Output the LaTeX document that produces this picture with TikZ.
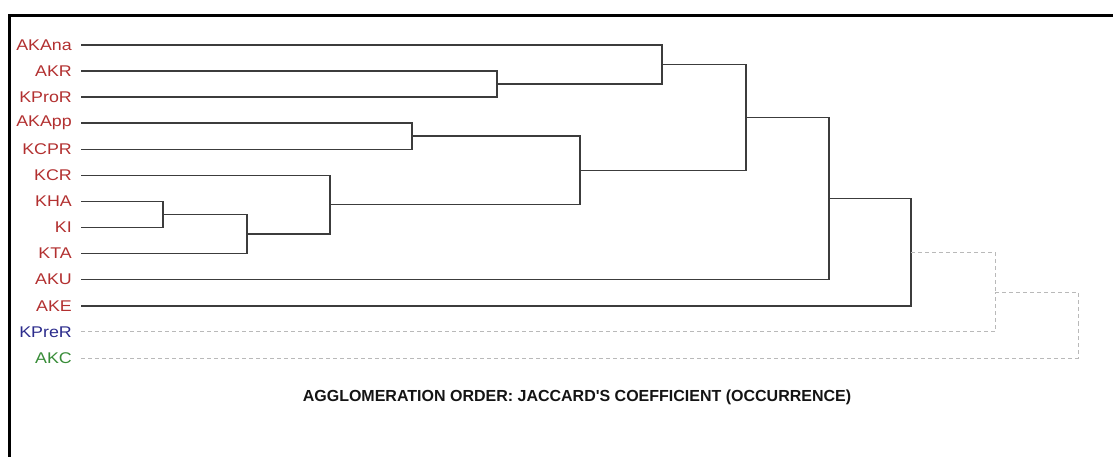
\documentclass[tikz,border=0pt]{standalone}
\usepackage{fontspec}
\setmainfont{Liberation Sans}
\newfontfamily\labelfont[FakeStretch=1.15]{Liberation Sans}
\newfontfamily\titlefont{Liberation Sans}
\definecolor{leafred}{RGB}{178,48,48}
\definecolor{leafblue}{RGB}{44,44,140}
\definecolor{leafgreen}{RGB}{56,140,56}
\definecolor{linkgray}{RGB}{60,60,60}
\definecolor{dashgray}{RGB}{185,185,185}
\tikzset{
  leaflabel/.style={anchor=east, inner sep=0pt, font=\labelfont\fontsize{15.5}{16}\selectfont},
  link/.style={draw=linkgray, line width=1.4pt},
  farlink/.style={draw=dashgray, line width=1pt, dash pattern=on 4pt off 3pt},
}
\begin{document}
\begin{tikzpicture}[x=1pt, y=-1pt]
\useasboundingbox (0,0) rectangle (1113,456);
% frame on the left and top
\draw[line width=3pt] (9.5,457) -- (9.5,15.5) -- (1114,15.5);

% leaves: label and start of the leaf line
\foreach \name/\lab/\col/\k in {
  l0/AKAna/leafred/0, l1/AKR/leafred/1, l2/KProR/leafred/2,
  l3/AKApp/leafred/3, l4/KCPR/leafred/4, l5/KCR/leafred/5,
  l6/KHA/leafred/6, l7/KI/leafred/7, l8/KTA/leafred/8,
  l9/AKU/leafred/9, l10/AKE/leafred/10, l11/KPreR/leafblue/11,
  l12/AKC/leafgreen/12} {
  \node[leaflabel, text=\col] (t\name) at (72,{44.8+26.1*\k}) {\lab};
  \coordinate (\name) at (81,{44.8+26.1*\k});
}

% merge points
\coordinate (mA) at (497,83.95);
\coordinate (mB) at (662,64.4);
\coordinate (mC) at (412,136.15);
\coordinate (mD) at (163,214.45);
\coordinate (mE) at (247,234.0);
\coordinate (mF) at (330,204.65);
\coordinate (mG) at (580,170.4);
\coordinate (mH) at (746,117.4);
\coordinate (mI) at (829,198.55);
\coordinate (mJ) at (911,252.2);
\coordinate (mK) at (995,292.05);
\coordinate (mL) at (1078,325.0);

% solid links
\draw[link] (l1) -| (mA);  \draw[link] (l2) -| (mA);
\draw[link] (l0) -| (mB);  \draw[link] (mA) -| (mB);
\draw[link] (l3) -| (mC);  \draw[link] (l4) -| (mC);
\draw[link] (l6) -| (mD);  \draw[link] (l7) -| (mD);
\draw[link] (mD) -| (mE);  \draw[link] (l8) -| (mE);
\draw[link] (l5) -| (mF);  \draw[link] (mE) -| (mF);
\draw[link] (mC) -| (mG);  \draw[link] (mF) -| (mG);
\draw[link] (mB) -| (mH);  \draw[link] (mG) -| (mH);
\draw[link] (mH) -| (mI);  \draw[link] (l9) -| (mI);
\draw[link] (mI) -| (mJ);  \draw[link] (l10) -| (mJ);

% dashed links
\draw[farlink] (mJ) -| (mK);  \draw[farlink] (l11) -| (mK);
\draw[farlink] (mK) -| (mL);  \draw[farlink] (l12) -| (mL);

% caption
\node[font=\titlefont\bfseries\fontsize{16}{18}\selectfont, text={rgb,255:red,20;green,20;blue,20}, inner sep=0pt] (title) at (577,397)
  {AGGLOMERATION ORDER: JACCARD'S COEFFICIENT (OCCURRENCE)};
\end{tikzpicture}
\end{document}
